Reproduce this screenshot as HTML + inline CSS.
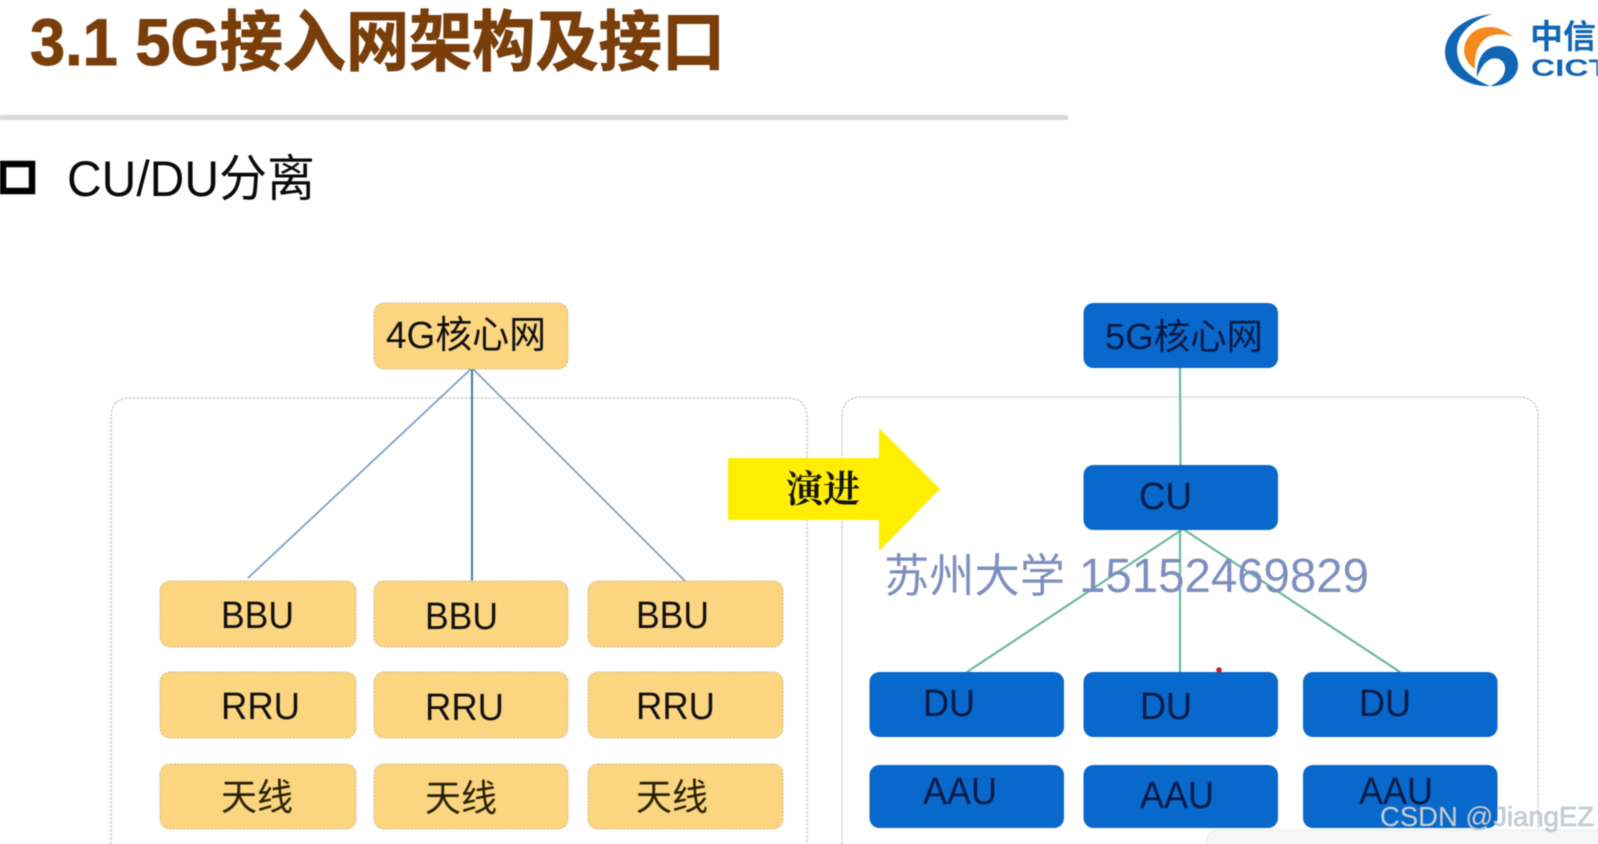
<!DOCTYPE html>
<html><head><meta charset="utf-8"><style>
html,body{margin:0;padding:0;background:#fff}
svg{display:block;filter:blur(.45px)}
text{font-family:"Liberation Sans","Noto Sans CJK SC",sans-serif}
</style></head><body>
<svg width="1598" height="844" viewBox="0 0 1598 844" xmlns="http://www.w3.org/2000/svg">
<rect width="1598" height="844" fill="#fff"/>
<!-- header -->
<text x="30" y="65" font-size="66" font-weight="700" fill="#7a3e0b" stroke="#7a3e0b" stroke-width="1" textLength="695" lengthAdjust="spacingAndGlyphs">3.1 5G接入网架构及接口</text>
<rect x="0" y="115" width="1068" height="5" fill="#d9d9d9"/>
<rect x="3" y="164" width="29" height="27" fill="none" stroke="#000" stroke-width="6.500"/>
<text x="67" y="196" font-size="50" fill="#0a0a0a" textLength="248" lengthAdjust="spacingAndGlyphs">CU/DU分离</text>
<!-- logo -->
<path d="M1492 14C1462 17 1445 34 1445 52C1445 72 1466 87 1490 86C1473 79 1457 68 1457 50C1457 33 1473 20 1492 14Z" fill="#1166b4"/>
<path d="M1513 37C1500 25 1483 24 1472 33C1461 44 1461 59 1475 69C1474 52 1479 42 1488 37C1496 33 1506 34 1513 37Z" fill="#f28a1d"/>
<path d="M1477 77C1476 60 1484 46 1499 46C1511 46 1518 55 1518 65C1518 78 1505 87 1490 86C1499 83 1506 75 1505 67C1504 60 1497 57 1491 59C1484 62 1481 68 1477 77Z" fill="#1166b4"/>
<text x="1530" y="48" font-size="33" font-weight="700" fill="#1166b4">中信</text>
<text x="1531" y="76" font-size="24" font-weight="700" fill="#1166b4" textLength="78" lengthAdjust="spacingAndGlyphs">CICT</text>
<!-- containers -->
<path d="M111 844V418Q111 398 131 398H787Q807 398 807 418V844" fill="none" stroke="#c6c6c6" stroke-width="1.300" stroke-dasharray="2.500 1.500"/>
<path d="M842 844V417Q842 397 862 397H1518Q1538 397 1538 417V844" fill="none" stroke="#c6c6c6" stroke-width="1.300" stroke-dasharray="2.500 1.500"/>
<!-- connectors left -->
<g fill="none">
<line x1="472" y1="368" x2="248" y2="578" stroke="#7fa3bf" stroke-width="1.800"/>
<line x1="472" y1="368" x2="472" y2="581" stroke="#3f7d9c" stroke-width="2"/>
<line x1="472" y1="368" x2="685" y2="581" stroke="#7fa3bf" stroke-width="1.800"/>
<!-- connectors right -->
<line x1="1180" y1="368" x2="1180.500" y2="466" stroke="#6bb89b" stroke-width="2.200"/>
<line x1="1183" y1="529" x2="967" y2="672" stroke="#6bb89b" stroke-width="2.200"/>
<line x1="1180" y1="530" x2="1180" y2="672" stroke="#6bb89b" stroke-width="2.200"/>
<line x1="1183" y1="529" x2="1400" y2="672" stroke="#6bb89b" stroke-width="2.200"/>
</g>
<!-- orange boxes -->
<g fill="#fbd57f" stroke="#d6c08e" stroke-width="1.200" stroke-dasharray="2 1.500">
<rect x="374" y="303" width="194" height="66" rx="10"/>
<rect x="160" y="581" width="196" height="66" rx="10"/>
<rect x="374" y="581" width="194" height="66" rx="10"/>
<rect x="588" y="581" width="195" height="66" rx="10"/>
<rect x="160" y="672" width="196" height="66" rx="10"/>
<rect x="374" y="672" width="194" height="66" rx="10"/>
<rect x="588" y="672" width="195" height="66" rx="10"/>
<rect x="160" y="764" width="196" height="65" rx="10"/>
<rect x="374" y="764" width="194" height="65" rx="10"/>
<rect x="588" y="764" width="195" height="65" rx="10"/>
</g>
<g font-size="38" fill="#111">
<text x="386" y="348" textLength="160" lengthAdjust="spacingAndGlyphs">4G核心网</text>
<text x="221" y="628" textLength="73" lengthAdjust="spacingAndGlyphs">BBU</text>
<text x="425" y="629" textLength="73" lengthAdjust="spacingAndGlyphs">BBU</text>
<text x="636" y="628" textLength="73" lengthAdjust="spacingAndGlyphs">BBU</text>
<text x="221" y="719" textLength="79" lengthAdjust="spacingAndGlyphs">RRU</text>
<text x="425" y="720" textLength="79" lengthAdjust="spacingAndGlyphs">RRU</text>
<text x="636" y="719" textLength="79" lengthAdjust="spacingAndGlyphs">RRU</text>
<text x="221" y="810" font-size="37" fill="#2a2208" textLength="72" lengthAdjust="spacingAndGlyphs">天线</text>
<text x="425" y="811" font-size="37" fill="#2a2208" textLength="72" lengthAdjust="spacingAndGlyphs">天线</text>
<text x="636" y="810" font-size="37" fill="#2a2208" textLength="72" lengthAdjust="spacingAndGlyphs">天线</text>
</g>
<!-- blue boxes -->
<g fill="#0868cb">
<rect x="1083.500" y="303" width="194.500" height="65" rx="10"/>
<rect x="1083.500" y="465" width="194.500" height="65" rx="10"/>
<rect x="869.500" y="672" width="194.500" height="65" rx="10"/>
<rect x="1083.500" y="672" width="194.500" height="65" rx="10"/>
<rect x="1303" y="672" width="194.500" height="65" rx="10"/>
<rect x="869.500" y="765" width="194.500" height="63" rx="10"/>
<rect x="1083.500" y="765" width="194.500" height="63" rx="10"/>
<rect x="1303" y="765" width="194.500" height="63" rx="10"/>
</g>
<g font-size="38" fill="#071a45">
<text x="1105" y="349" font-size="36" textLength="158" lengthAdjust="spacingAndGlyphs">5G核心网</text>
<text x="1139" y="509" textLength="53" lengthAdjust="spacingAndGlyphs">CU</text>
<text x="923" y="716" textLength="52" lengthAdjust="spacingAndGlyphs">DU</text>
<text x="1140" y="719" textLength="52" lengthAdjust="spacingAndGlyphs">DU</text>
<text x="1359" y="716" textLength="52" lengthAdjust="spacingAndGlyphs">DU</text>
<text x="923" y="804" textLength="74" lengthAdjust="spacingAndGlyphs">AAU</text>
<text x="1140" y="808" textLength="74" lengthAdjust="spacingAndGlyphs">AAU</text>
<text x="1359" y="804" textLength="74" lengthAdjust="spacingAndGlyphs">AAU</text>
</g>
<circle cx="1219" cy="670" r="2.800" fill="#c8202a"/>
<!-- arrow -->
<polygon points="728,458 879,458 879,428 940,489 879,551 879,520 728,520" fill="#ffee00"/>
<text x="786" y="502" font-size="37" font-weight="700" fill="#151515" style='font-family:"Noto Serif CJK SC","Noto Sans CJK SC",serif'>演进</text>
<!-- watermark -->
<text x="884" y="592" font-size="46" fill="#7e8fbf" textLength="181" lengthAdjust="spacingAndGlyphs">苏州大学</text>
<text x="1079" y="592" font-size="48" fill="#7e8fbf" textLength="290" lengthAdjust="spacingAndGlyphs">15152469829</text>
<!-- bottom band -->
<path d="M1206 844Q1206 830 1220 830H1598V844Z" fill="#f7f7f7" stroke="#ececec"/>
<text x="1380" y="826" font-size="28" fill="#c6d0da" stroke="#8f9aa5" stroke-width=".3" textLength="214" lengthAdjust="spacingAndGlyphs">CSDN @JiangEZ</text>
</svg>
</body></html>
